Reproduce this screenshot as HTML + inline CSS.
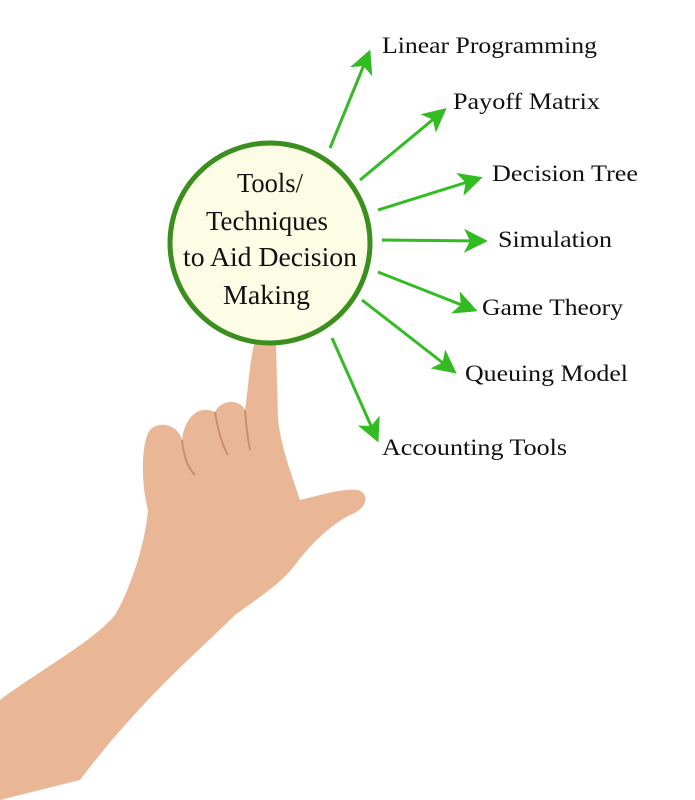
<!DOCTYPE html>
<html><head><style>
body{margin:0;width:695px;height:800px;background:#fff;overflow:hidden}
svg{display:block}
text{font-family:"Liberation Serif",serif;fill:#111}
</style></head><body>
<svg width="695" height="800" viewBox="0 0 695 800">
<defs>
<marker id="a" markerWidth="8" markerHeight="8" refX="6" refY="4" orient="auto" markerUnits="strokeWidth">
<path d="M0,0 L8,4 L0,8 L2,4 Z" fill="#33bb22"/>
</marker>
</defs>
<path d="M254,345 C254,330 272,328 276,342 L278,420 C282,450 290,470 300,500 C320,495 345,488 358,490 C372,495 365,510 350,515 C330,525 310,545 295,565 C280,585 255,600 235,615 C200,650 140,700 80,780 L0,800 L0,700 C40,670 95,640 115,615 C130,590 145,545 148,510 C140,480 142,440 150,430 C160,420 178,425 182,440 C185,415 200,405 215,412 C220,400 240,398 245,410 C248,390 250,360 254,345 Z" fill="#e9b796"/>
<path d="M182,440 C184,460 190,470 195,475 M215,412 C218,430 222,445 228,455 M245,410 C246,425 248,440 250,450" stroke="#c98f70" stroke-width="2" fill="none"/>
<circle cx="270" cy="243" r="100" fill="#fdfde6" stroke="#3a8f1e" stroke-width="5"/>
<g font-size="27" lengthAdjust="spacingAndGlyphs">
<text x="237" y="192" textLength="66" lengthAdjust="spacingAndGlyphs">Tools/</text>
<text x="206" y="230" textLength="122" lengthAdjust="spacingAndGlyphs">Techniques</text>
<text x="183" y="266" textLength="174" lengthAdjust="spacingAndGlyphs">to Aid Decision</text>
<text x="223" y="304" textLength="87" lengthAdjust="spacingAndGlyphs">Making</text>
</g>
<g stroke="#33bb22" stroke-width="3" marker-end="url(#a)">
<line x1="330" y1="148" x2="368" y2="55"/>
<line x1="360" y1="180" x2="442" y2="112"/>
<line x1="378" y1="210" x2="477" y2="179"/>
<line x1="382" y1="240" x2="482" y2="241"/>
<line x1="378" y1="272" x2="472" y2="309"/>
<line x1="362" y1="300" x2="452" y2="370"/>
<line x1="332" y1="338" x2="376" y2="437"/>
</g>
<g font-size="23">
<text x="382" y="53" textLength="215" lengthAdjust="spacingAndGlyphs">Linear Programming</text>
<text x="453" y="109" textLength="147" lengthAdjust="spacingAndGlyphs">Payoff Matrix</text>
<text x="492" y="181" textLength="146" lengthAdjust="spacingAndGlyphs">Decision Tree</text>
<text x="498" y="247" textLength="114" lengthAdjust="spacingAndGlyphs">Simulation</text>
<text x="482" y="315" textLength="141" lengthAdjust="spacingAndGlyphs">Game Theory</text>
<text x="465" y="381" textLength="163" lengthAdjust="spacingAndGlyphs">Queuing Model</text>
<text x="382" y="455" textLength="185" lengthAdjust="spacingAndGlyphs">Accounting Tools</text>
</g>
</svg>
</body></html>
